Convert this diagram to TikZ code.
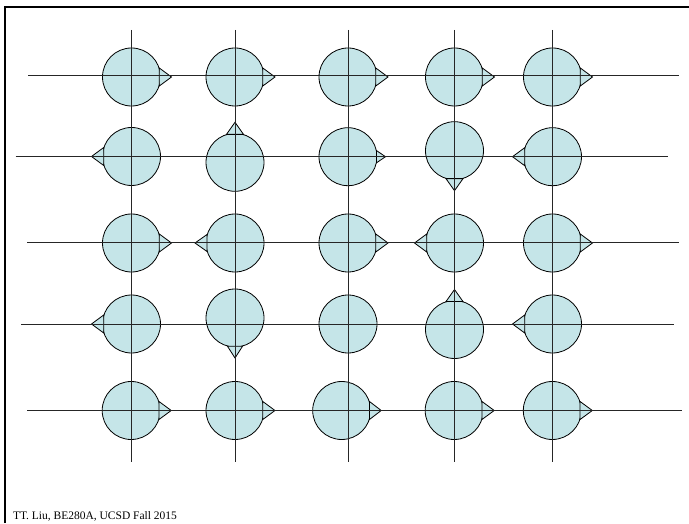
\documentclass[tikz,border=0pt]{standalone}
\usepackage{fontspec}
\setmainfont{Liberation Serif}
\usetikzlibrary{calc}
\definecolor{spinfill}{HTML}{C5E5E8}
\tikzset{
  spin/.style={circle, draw=black, fill=spinfill, line width=0.8pt, minimum size=58pt, inner sep=0pt, outer sep=0pt},
  gridline/.style={draw=black!85, line width=0.9pt},
  tipstyle/.style={draw=black, fill=spinfill, line width=0.8pt, line join=miter},
  framestyle/.style={draw=black, line width=2pt},
}
% #1 node, #2 direction angle, #3 tip distance, #4 half angle of base chord
\newcommand{\spintri}[4]{%
  \path[tipstyle] ($(#1)+({#2}:#3pt)$) -- ($(#1)+({#2+#4}:29.2pt)$) -- ($(#1)+({#2-#4}:29.2pt)$) -- cycle;}
\begin{document}
\begin{tikzpicture}[x=1pt,y=1pt]
\useasboundingbox (0,0) rectangle (689,523);
% frame
\coordinate (fa) at (5,0);
\coordinate (fb) at (5,516.3);
\coordinate (fc) at (689,516.3);
\draw[framestyle] (fa) -- (fb) -- (fc);
% spins row 1
\node[spin] (c11) at (131.5,446) {};
\node[spin] (c12) at (235,446) {};
\node[spin] (c13) at (348,446) {};
\node[spin] (c14) at (454.5,446) {};
\node[spin] (c15) at (552.5,446) {};
% row 2
\node[spin] (c21) at (131.5,366.5) {};
\node[spin] (c22) at (235,360.7) {};
\node[spin] (c23) at (348,366.3) {};
\node[spin] (c24) at (454.5,372.3) {};
\node[spin] (c25) at (552.5,366.3) {};
% row 3
\node[spin] (c31) at (131.5,280) {};
\node[spin] (c32) at (235,280) {};
\node[spin] (c33) at (348,280) {};
\node[spin] (c34) at (454.5,280) {};
\node[spin] (c35) at (552.5,280) {};
% row 4
\node[spin] (c41) at (131.5,199) {};
\node[spin] (c42) at (235,205) {};
\node[spin] (c43) at (348,199) {};
\node[spin] (c44) at (454.5,193.5) {};
\node[spin] (c45) at (552.5,199) {};
% row 5
\node[spin] (c51) at (131.2,112.5) {};
\node[spin] (c52) at (235,112.5) {};
\node[spin] (c53) at (341.7,112.5) {};
\node[spin] (c54) at (454.2,112.5) {};
\node[spin] (c55) at (552.3,112.5) {};
% triangles
\spintri{c11}{0}{40}{18}
\spintri{c12}{0}{40}{18}
\spintri{c13}{0}{40}{18}
\spintri{c14}{0}{40}{18}
\spintri{c15}{0}{40}{18}
\spintri{c21}{180}{40}{18}
\spintri{c22}{90}{40}{17}
\spintri{c23}{0}{37.5}{12}
\spintri{c24}{270}{40}{17}
\spintri{c25}{180}{40}{18}
\spintri{c31}{0}{40}{18}
\spintri{c32}{180}{40}{17}
\spintri{c33}{0}{40}{18}
\spintri{c34}{180}{40}{18}
\spintri{c35}{0}{40}{18}
\spintri{c41}{180}{40}{18}
\spintri{c42}{270}{40}{15}
\spintri{c44}{90}{40}{17}
\spintri{c45}{180}{40}{18}
\spintri{c51}{0}{40}{18}
\spintri{c52}{0}{40}{18}
\spintri{c53}{0}{39.5}{18}
\spintri{c54}{0}{40}{18}
\spintri{c55}{0}{40}{18}
% horizontal lines
\draw[gridline] (28,447.3) -- (679,447.3);
\draw[gridline] (15.5,366.3) -- (667.7,366.3);
\draw[gridline] (27.3,280.3) -- (679,280.3);
\draw[gridline] (21.3,199) -- (673.7,199);
\draw[gridline] (27.4,112.3) -- (682,112.3);
% vertical lines
\foreach \cx in {131.7,235,348.3,454.3,552.7}
  \draw[gridline] (\cx,493) -- (\cx,61.3);
% footer
\node[anchor=base west, inner sep=0pt, font=\fontsize{11.5}{13}\selectfont] (foot) at (12.8,4) {TT. Liu, BE280A, UCSD Fall 2015};
\end{tikzpicture}
\end{document}
